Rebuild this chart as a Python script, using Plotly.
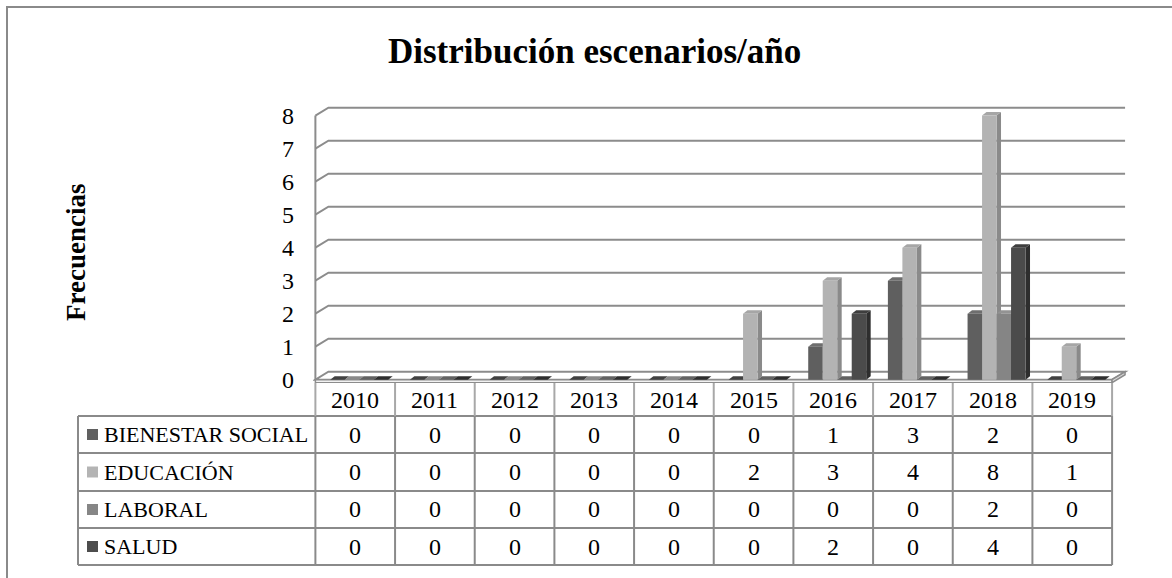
import plotly.graph_objects as go

# ---------------- data ----------------
years = ["2010", "2011", "2012", "2013", "2014", "2015", "2016", "2017", "2018", "2019"]
series_names = ["BIENESTAR SOCIAL", "EDUCACIÓN", "LABORAL", "SALUD"]
bienestar_social = [0, 0, 0, 0, 0, 0, 1, 3, 2, 0]
educacion = [0, 0, 0, 0, 0, 2, 3, 4, 8, 1]
laboral = [0, 0, 0, 0, 0, 0, 0, 0, 2, 0]
salud = [0, 0, 0, 0, 0, 0, 2, 0, 4, 0]
y_ticks = [0, 1, 2, 3, 4, 5, 6, 7, 8]
title_text = "Distribución escenarios/año"
y_title = "Frecuencias"

series_values = [bienestar_social, educacion, laboral, salud]

# ---------------- style ----------------
front_colors = ["#5f5f5f", "#b3b3b3", "#858585", "#4b4b4b"]
side_colors = ["#414141", "#8a8a8a", "#626262", "#2e2e2e"]
top_colors = ["#6e6e6e", "#a6a6a6", "#939393", "#3e3e3e"]
legend_colors = ["#606060", "#b4b4b4", "#868686", "#4d4d4d"]
GRID = "#8c8c8c"
FONT = "Liberation Serif"

W, H = 1172, 578
L, R, T, B = 313, 40, 104, 195
X0R, X1R = -0.53, 9.75
Y0R, Y1R = -0.1, 8.35
PW = W - L - R
PH = H - T - B

BAR_W = 0.182
SHIFT = 0.05
DX_BAR, DY_BAR = 0.056, 0.106
DX_FLOOR, DY_FLOOR = 0.163, 0.24
SLAB = 0.09


def px_x(px):
    return (px - L) / PW


def px_y(py):
    return (H - B - py) / PH


def cat_x(c):
    return (c - X0R) / (X1R - X0R)


fig = go.Figure()

shapes = []
n_cat = len(years)
left_c = -0.5
right_c = n_cat - 0.5

# floor
shapes.append(dict(type="path", xref="x", yref="y", layer="below",
                   path=f"M {left_c},0 L {right_c},0 L {right_c+DX_FLOOR},{DY_FLOOR} L {left_c+DX_FLOOR},{DY_FLOOR} Z",
                   fillcolor="white", line=dict(color=GRID, width=2)))
shapes.append(dict(type="path", xref="x", yref="y", layer="below",
                   path=f"M {left_c},0 L {right_c},0 L {right_c},{-SLAB} L {left_c},{-SLAB} Z",
                   fillcolor="#f2f2f2", line=dict(color=GRID, width=1.5)))
shapes.append(dict(type="path", xref="x", yref="y", layer="below",
                   path=f"M {right_c},0 L {right_c+DX_FLOOR},{DY_FLOOR} L {right_c+DX_FLOOR},{DY_FLOOR-SLAB} L {right_c},{-SLAB} Z",
                   fillcolor="#dcdcdc", line=dict(color=GRID, width=1.5)))
# back-wall gridlines with side-wall diagonals
for v in y_ticks[1:]:
    shapes.append(dict(type="path", xref="x", yref="y", layer="below",
                       path=f"M {left_c},{v} L {left_c+DX_FLOOR},{v+DY_FLOOR} L {right_c+DX_FLOOR},{v+DY_FLOOR}",
                       line=dict(color=GRID, width=2)))
# front-left vertical axis line
shapes.append(dict(type="line", xref="x", yref="y", layer="below",
                   x0=left_c, x1=left_c, y0=0, y1=max(y_ticks),
                   line=dict(color=GRID, width=2)))

# bars (front faces) + 3D side/top faces
for i, (name, vals) in enumerate(zip(series_names, series_values)):
    off = -2 * BAR_W + SHIFT + i * BAR_W
    fig.add_trace(go.Bar(x=years, y=vals, name=name, width=BAR_W, offset=off,
                         marker=dict(color=front_colors[i], line=dict(width=0)),
                         showlegend=False))
    for c, v in enumerate(vals):
        x0 = c + off
        x1 = x0 + BAR_W
        if v > 0:
            shapes.append(dict(type="path", xref="x", yref="y", layer="below",
                               path=f"M {x1},0 L {x1+DX_BAR},{DY_BAR} L {x1+DX_BAR},{v+DY_BAR} L {x1},{v} Z",
                               fillcolor=side_colors[i], line=dict(width=0)))
        shapes.append(dict(type="path", xref="x", yref="y", layer="below",
                           path=f"M {x0},{v} L {x0+DX_BAR},{v+DY_BAR} L {x1+DX_BAR},{v+DY_BAR} L {x1},{v} Z",
                           fillcolor=top_colors[i] if v > 0 else side_colors[i], line=dict(width=0)))

# ---------------- data table ----------------
TABLE_LINE = "#8a8a8a"
HEADER_LINE = "#a8a8a8"
header_top = 383
row_lines = [416, 453, 491, 528, 565]
label_left = 78
x_right = cat_x(right_c)

for py in row_lines:
    shapes.append(dict(type="line", xref="paper", yref="paper",
                       x0=px_x(label_left), x1=x_right, y0=px_y(py), y1=px_y(py),
                       line=dict(color=TABLE_LINE, width=2)))
shapes.append(dict(type="line", xref="paper", yref="paper",
                   x0=px_x(label_left), x1=px_x(label_left), y0=px_y(row_lines[0]), y1=px_y(row_lines[-1]),
                   line=dict(color=TABLE_LINE, width=2)))
for k in range(n_cat + 1):
    xc = cat_x(left_c + k)
    shapes.append(dict(type="line", xref="paper", yref="paper",
                       x0=xc, x1=xc, y0=px_y(header_top), y1=px_y(row_lines[0]),
                       line=dict(color=HEADER_LINE, width=2)))
    shapes.append(dict(type="line", xref="paper", yref="paper",
                       x0=xc, x1=xc, y0=px_y(row_lines[0]), y1=px_y(row_lines[-1]),
                       line=dict(color=TABLE_LINE, width=2)))

annotations = []
tfont = dict(family=FONT, size=22, color="black")
nfont = dict(family=FONT, size=24, color="black")
for c, yr in enumerate(years):
    annotations.append(dict(text=yr, xref="paper", yref="paper", x=cat_x(c),
                            y=px_y((header_top + row_lines[0]) / 2), showarrow=False,
                            xanchor="center", yanchor="middle", font=nfont))
for i, (name, vals) in enumerate(zip(series_names, series_values)):
    yc = (row_lines[i] + row_lines[i + 1]) / 2
    shapes.append(dict(type="rect", xref="paper", yref="paper",
                       x0=px_x(87), x1=px_x(98), y0=px_y(yc + 5.5), y1=px_y(yc - 5.5),
                       fillcolor=legend_colors[i], line=dict(width=0)))
    annotations.append(dict(text=name, xref="paper", yref="paper", x=px_x(102),
                            y=px_y(yc), showarrow=False, xanchor="left", yanchor="middle",
                            font=tfont))
    for c, v in enumerate(vals):
        annotations.append(dict(text=str(v), xref="paper", yref="paper", x=cat_x(c),
                                y=px_y(yc), showarrow=False, xanchor="center",
                                yanchor="middle", font=nfont))

# titles
annotations.append(dict(text=f"<b>{title_text}</b>", xref="paper", yref="paper",
                        x=px_x(594), y=px_y(51), showarrow=False, xanchor="center",
                        yanchor="middle", font=dict(family=FONT, size=35, color="black")))
annotations.append(dict(text=f"<b>{y_title}</b>", xref="paper", yref="paper",
                        x=px_x(76), y=px_y(252), showarrow=False, textangle=-90,
                        xanchor="center", yanchor="middle",
                        font=dict(family=FONT, size=27, color="black")))

# outer frame
shapes.append(dict(type="path", xref="paper", yref="paper",
                   path=f"M {px_x(7)},{px_y(H + 5)} L {px_x(7)},{px_y(7)} L {px_x(W + 5)},{px_y(7)}",
                   line=dict(color="#8a8a8a", width=2)))

fig.update_layout(
    width=W, height=H,
    margin=dict(l=L, r=R, t=T, b=B, pad=0),
    paper_bgcolor="white", plot_bgcolor="white",
    barmode="overlay",
    showlegend=False,
    font=dict(family=FONT, color="black"),
    xaxis=dict(type="category", range=[X0R, X1R], showticklabels=False, showgrid=False,
               zeroline=False, showline=False, ticks=""),
    yaxis=dict(range=[Y0R, Y1R], tickvals=y_ticks, ticktext=[str(v) for v in y_ticks],
               showgrid=False, zeroline=False, showline=False, ticks="",
               tickfont=dict(family=FONT, size=24, color="black"), ticklabelstandoff=18),
    shapes=shapes,
    annotations=annotations,
)

fig.write_html("out.html", config={"displayModeBar": False},
               post_script="document.body.style.margin='0px';")
